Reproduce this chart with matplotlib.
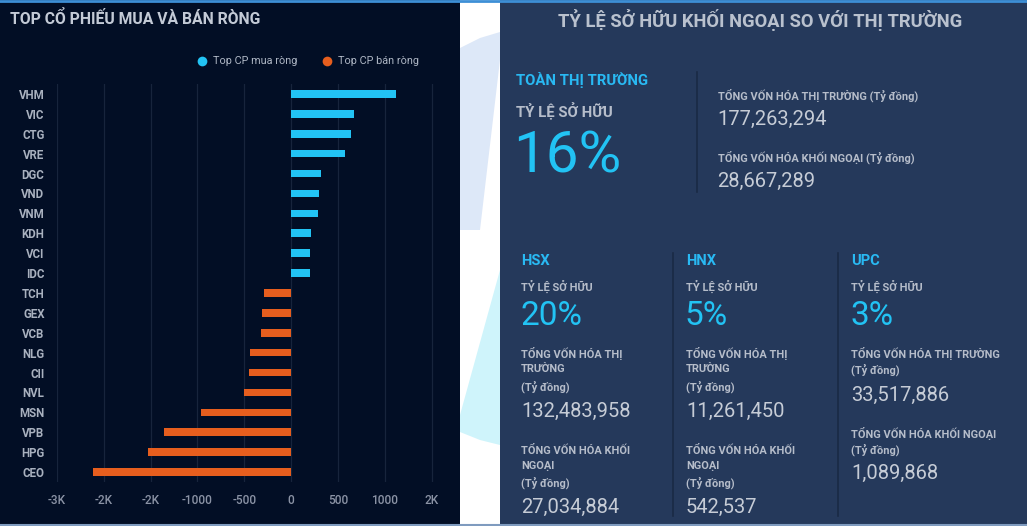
import matplotlib
matplotlib.use("Agg")
import matplotlib.pyplot as plt
from matplotlib.patches import Rectangle, Polygon
from matplotlib.lines import Line2D
import numpy as np

plt.rcParams['font.family'] = ['Roboto', 'DejaVu Sans']

# Top net buy / net sell stocks (ty dong)
tickers = ["VHM", "VIC", "CTG", "VRE", "DGC", "VND", "VNM", "KDH", "VCI", "IDC",
           "TCH", "GEX", "VCB", "NLG", "CII", "NVL", "MSN", "VPB", "HPG", "CEO"]
net_values = [1120, 675, 640, 570, 315, 300, 290, 215, 205, 205,
              -285, -310, -320, -435, -455, -500, -960, -1355, -1530, -2115]
x_ticks = [-2500, -2000, -1500, -1000, -500, 0, 500, 1000, 1500]
x_tick_labels = ["-3K", "-2K", "-2K", "-1000", "-500", "0", "500", "1000", "2K"]

# Foreign ownership panel
overall_ratio = "16%"
overall_caps = ["177,263,294", "28,667,289"]
exchanges = ["HSX", "HNX", "UPC"]
exchange_ratios = ["20%", "5%", "3%"]
exchange_market_caps = ["132,483,958", "11,261,450", "33,517,886"]
exchange_foreign_caps = ["27,034,884", "542,537", "1,089,868"]

W, H = 1027, 526
fig = plt.figure(figsize=(W / 100, H / 100), dpi=100, facecolor="white")

CYAN = "#22c3f4"
ORANGE = "#e65e1e"


def px(x, y):
    return x / W, 1 - y / H


def txt(x, y, s, **kw):
    fx, fy = px(x, y)
    kw.setdefault("va", "center")
    fig.text(fx, fy, s, **kw)


# backgrounds
fig.patches.append(Rectangle((0, 0), 460 / W, 1, transform=fig.transFigure,
                             facecolor="#020e25", edgecolor="none", zorder=-5))
fig.patches.append(Rectangle((500 / W, 0), 527 / W, 1, transform=fig.transFigure,
                             facecolor="#25395b", edgecolor="none", zorder=-5))
# pale decorative shapes in the gap
shape1 = [px(460, 48), px(480, 38), px(500, 32), px(500, 60), px(480, 230), px(460, 230)]
shape2 = [px(500, 270), px(460, 415), px(460, 432), px(480, 440), px(500, 445)]
fig.patches.append(Polygon(shape1, closed=True, transform=fig.transFigure,
                           facecolor="#dde8f8", edgecolor="none", zorder=-5))
fig.patches.append(Polygon(shape2, closed=True, transform=fig.transFigure,
                           facecolor="#cff4fb", edgecolor="none", zorder=-5))
# top and bottom border lines
fig.add_artist(Line2D([0, 1], [1 - 1 / H, 1 - 1 / H], transform=fig.transFigure,
                      color="#3d8fd6", lw=2))
fig.add_artist(Line2D([0, 1], [1.5 / H, 1.5 / H], transform=fig.transFigure,
                      color="#7f9bbf", lw=1.5))

# ---- left chart ----
ax = fig.add_axes([57 / W, 1 - 482 / H, 384 / W, 398 / H])
ax.set_facecolor("none")
y = np.arange(len(tickers))
colors = [CYAN if v >= 0 else ORANGE for v in net_values]
ax.barh(y, net_values, height=0.38, color=colors, zorder=3)
ax.set_ylim(len(tickers) - 0.5, -0.5)
ax.set_xlim(-2500, 1600)
ax.set_yticks(y)
ax.set_yticklabels(tickers, fontsize=8.3, fontweight="bold", color="#a9b1bf")
ax.set_xticks(x_ticks)
ax.set_xticklabels(x_tick_labels, fontsize=8.6, fontweight="medium", color="#8b93a5")
ax.tick_params(length=0, pad=9)
ax.tick_params(axis="y", pad=9)
ax.grid(axis="x", color="#17243c", lw=0.9, zorder=0)
for s in ax.spines.values():
    s.set_visible(False)

txt(10, 19, "TOP CỔ PHIẾU MUA VÀ BÁN RÒNG", fontsize=11.3, fontweight="bold",
    color="#c3cad6")
for cx, col in [(202, CYAN), (327, ORANGE)]:
    fx, fy = px(cx, 61)
    fig.add_artist(Line2D([fx], [fy], transform=fig.transFigure, marker="o",
                          markersize=7, color=col, markeredgewidth=0, linestyle="none"))
txt(213, 61, "Top CP mua ròng", fontsize=7.8, color="#aeb6c4")
txt(338, 61, "Top CP bán ròng", fontsize=7.8, color="#aeb6c4")

# ---- right panel ----
LABEL = "#b6bdca"
VALUE = "#c6ccd6"
txt(760, 20, "TỶ LỆ SỞ HỮU KHỐI NGOẠI SO VỚI THỊ TRƯỜNG", fontsize=13.2,
    fontweight="bold", color="#b9c1ce", ha="center")
txt(516, 80, "TOÀN THỊ TRƯỜNG", fontsize=10.7, fontweight="bold", color="#29b9f3")
txt(516, 110, "TỶ LỆ SỞ HỮU", fontsize=10.7, fontweight="bold", color=LABEL)
txt(513, 157, overall_ratio, fontsize=42, color=CYAN)
fig.add_artist(Line2D([697 / W] * 2, [1 - 72 / H, 1 - 192 / H], transform=fig.transFigure,
                      color="#1a2a45", lw=1.2))
SMALL = 7.9
txt(718, 95, "TỔNG VỐN HÓA THỊ TRƯỜNG (Tỷ đồng)", fontsize=SMALL, fontweight="bold", color=LABEL)
txt(717, 119, overall_caps[0], fontsize=14.5, color=VALUE)
txt(718, 157, "TỔNG VỐN HÓA KHỐI NGOẠI (Tỷ đồng)", fontsize=SMALL, fontweight="bold", color=LABEL)
txt(717, 181, overall_caps[1], fontsize=14.5, color=VALUE)

col_x = [521, 686, 851]
for sep in [673, 838]:
    fig.add_artist(Line2D([sep / W] * 2, [1 - 253 / H, 1 - 516 / H], transform=fig.transFigure,
                          color="#1a2a45", lw=1.2))
for i, x0 in enumerate(col_x):
    txt(x0, 261, exchanges[i], fontsize=10.5, fontweight="bold", color="#29b9f3")
    txt(x0, 286, "TỶ LỆ SỞ HỮU", fontsize=SMALL, fontweight="bold", color=LABEL)
    txt(x0 - 1, 316, exchange_ratios[i], fontsize=24, color=CYAN)
    if i < 2:
        txt(x0, 353, "TỔNG VỐN HÓA THỊ", fontsize=SMALL, fontweight="bold", color=LABEL)
        txt(x0, 369, "TRƯỜNG", fontsize=SMALL, fontweight="bold", color=LABEL)
        txt(x0, 387, "(Tỷ đồng)", fontsize=SMALL, fontweight="bold", color=LABEL)
        txt(x0, 411, exchange_market_caps[i], fontsize=14.5, color=VALUE)
        txt(x0, 450, "TỔNG VỐN HÓA KHỐI", fontsize=SMALL, fontweight="bold", color=LABEL)
        txt(x0, 466, "NGOẠI", fontsize=SMALL, fontweight="bold", color=LABEL)
        txt(x0, 483, "(Tỷ đồng)", fontsize=SMALL, fontweight="bold", color=LABEL)
        txt(x0, 507, exchange_foreign_caps[i], fontsize=14.5, color=VALUE)
    else:
        txt(x0, 353, "TỔNG VỐN HÓA THỊ TRƯỜNG", fontsize=SMALL, fontweight="bold", color=LABEL)
        txt(x0, 370, "(Tỷ đồng)", fontsize=SMALL, fontweight="bold", color=LABEL)
        txt(x0, 395, exchange_market_caps[i], fontsize=14.5, color=VALUE)
        txt(x0, 433, "TỔNG VỐN HÓA KHỐI NGOẠI", fontsize=SMALL, fontweight="bold", color=LABEL)
        txt(x0, 450, "(Tỷ đồng)", fontsize=SMALL, fontweight="bold", color=LABEL)
        txt(x0, 473, exchange_foreign_caps[i], fontsize=14.5, color=VALUE)

fig.savefig("out.png", dpi=100, facecolor=fig.get_facecolor())
